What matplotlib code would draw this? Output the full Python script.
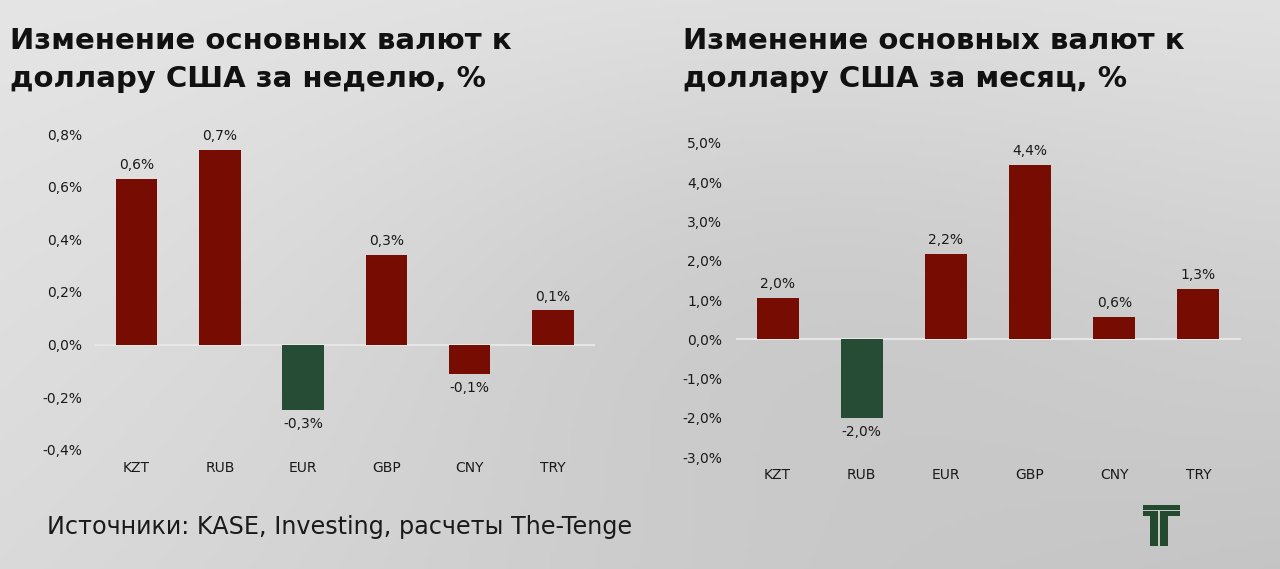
import numpy as np
import matplotlib
matplotlib.use("Agg")
import matplotlib.pyplot as plt
from matplotlib.patches import Rectangle

plt.rcParams['font.family'] = ['DejaVu Sans']

# ---------------- data ----------------
categories = ["KZT", "RUB", "EUR", "GBP", "CNY", "TRY"]

week_values = [0.63, 0.74, -0.25, 0.34, -0.11, 0.13]
week_labels = ["0,6%", "0,7%", "-0,3%", "0,3%", "-0,1%", "0,1%"]
week_ticks = [-0.4, -0.2, 0.0, 0.2, 0.4, 0.6, 0.8]
week_ticklabels = ["-0,4%", "-0,2%", "0,0%", "0,2%", "0,4%", "0,6%", "0,8%"]

month_values = [1.05, -2.0, 2.16, 4.44, 0.56, 1.29]
month_labels = ["2,0%", "-2,0%", "2,2%", "4,4%", "0,6%", "1,3%"]
month_ticks = [-3.0, -2.0, -1.0, 0.0, 1.0, 2.0, 3.0, 4.0, 5.0]
month_ticklabels = ["-3,0%", "-2,0%", "-1,0%", "0,0%", "1,0%", "2,0%", "3,0%", "4,0%", "5,0%"]

title_week = ["Изменение основных валют к", "доллару США за неделю, %"]
title_month = ["Изменение основных валют к", "доллару США за месяц, %"]
source_text = "Источники: KASE, Investing, расчеты The-Tenge"

RED = "#770c02"
GREEN = "#264c36"
TXT = "#1a1a1a"

W, H = 1280, 569
fig = plt.figure(figsize=(W / 100, H / 100), dpi=100)

# ---------------- background gradient ----------------
bg = fig.add_axes([0, 0, 1, 1], zorder=-10)
xx, yy = np.meshgrid(np.linspace(0, 1, 256), np.linspace(0, 1, 128))
tl, tr, bl, br = 229, 226, 218, 198
val = (tl * (1 - xx) * (1 - yy) + tr * xx * (1 - yy) + bl * (1 - xx) * yy + br * xx * yy)
val -= 12 * np.exp(-((xx - 0.6) ** 2 / 0.12 + (yy - 0.5) ** 2 / 0.25))
img = np.dstack([val, val, val]) / 255.0
bg.imshow(img, aspect='auto', extent=[0, 1, 0, 1], origin='upper')
bg.set_axis_off()


def px(x0, y0, x1, y1):
    """pixel box (top-left origin) -> figure fraction rect"""
    return [x0 / W, 1 - y1 / H, (x1 - x0) / W, (y1 - y0) / H]


def draw_chart(rect, values, labels, ticks, ticklabels, ylim, green_idx):
    ax = fig.add_axes(rect)
    ax.set_facecolor('none')
    x = np.arange(len(categories))
    colors = [GREEN if i == green_idx else RED for i in range(len(values))]
    ax.bar(x, values, width=0.5, color=colors, zorder=3)
    ax.axhline(0, color="#e6e6e6", lw=1.5, zorder=2)
    for xi, v, lab in zip(x, values, labels):
        off = 10 if v >= 0 else -10
        ax.annotate(lab, (xi, v), xytext=(0, off), textcoords='offset points',
                    ha='center', va='center', fontsize=10, color=TXT)
    ax.set_xlim(-0.5, 5.5)
    ax.set_ylim(*ylim)
    ax.set_yticks(ticks)
    ax.set_yticklabels(ticklabels)
    ax.set_xticks(x)
    ax.set_xticklabels(categories)
    ax.tick_params(axis='both', length=0, labelsize=10, colors=TXT)
    ax.tick_params(axis='y', pad=9.5)
    ax.tick_params(axis='x', pad=8)
    for s in ax.spines.values():
        s.set_visible(False)
    return ax


draw_chart(px(95, 134, 594.5, 450), week_values, week_labels,
           week_ticks, week_ticklabels, (-0.4, 0.8), 2)
draw_chart(px(735.5, 142.7, 1240.5, 457.3), month_values, month_labels,
           month_ticks, month_ticklabels, (-3.0, 5.0), 1)

# ---------------- titles ----------------
for x0, lines in ((10, title_week), (683, title_month)):
    fig.text(x0 / W, 1 - 49 / H, lines[0], fontsize=21, fontweight='bold',
             color="#111111", va='baseline', ha='left')
    fig.text(x0 / W, 1 - 87 / H, lines[1], fontsize=21, fontweight='bold',
             color="#111111", va='baseline', ha='left')

fig.text(47 / W, 1 - 527 / H, source_text, fontsize=17.2, color=TXT,
         va='center', ha='left')

# ---------------- logo ----------------
LOGO = "#23492f"
for (a, b, c, d) in [(1142.5, 504.7, 1179.5, 509.5),
                     (1142.5, 511, 1158.3, 516.3), (1150, 511, 1158.3, 545.5),
                     (1160.3, 511, 1179.5, 516.3), (1160.3, 511, 1167.7, 545.5)]:
    r = px(a, b, c, d)
    fig.patches.append(Rectangle((r[0], r[1]), r[2], r[3], transform=fig.transFigure,
                                 color=LOGO, zorder=5, lw=0))

fig.savefig("out.png", dpi=100)
